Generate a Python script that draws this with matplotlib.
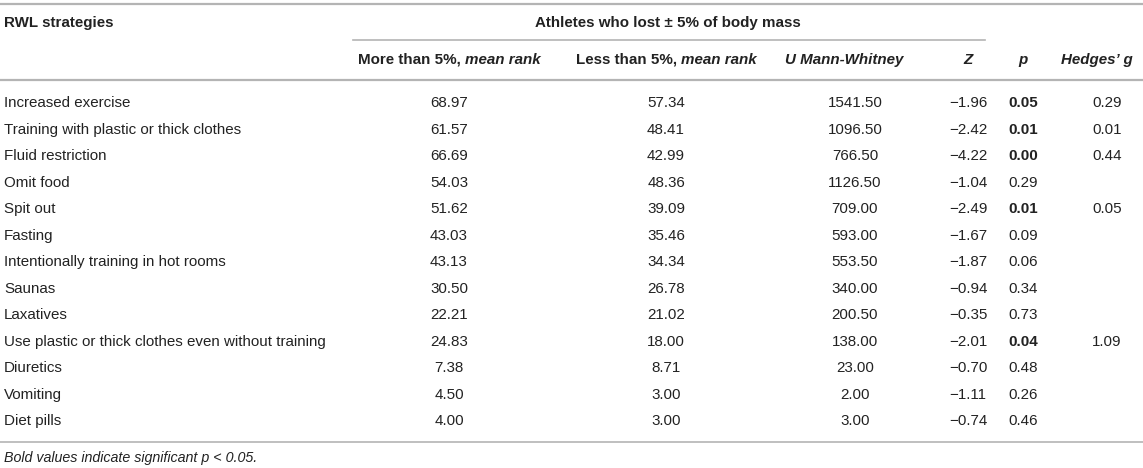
import matplotlib
matplotlib.use("Agg")
import matplotlib.pyplot as plt

plt.rcParams['font.family'] = ['Liberation Sans', 'DejaVu Sans']

# table content
strategies = ["Increased exercise", "Training with plastic or thick clothes", "Fluid restriction",
              "Omit food", "Spit out", "Fasting", "Intentionally training in hot rooms", "Saunas",
              "Laxatives", "Use plastic or thick clothes even without training", "Diuretics",
              "Vomiting", "Diet pills"]
more_rank = [68.97, 61.57, 66.69, 54.03, 51.62, 43.03, 43.13, 30.50, 22.21, 24.83, 7.38, 4.50, 4.00]
less_rank = [57.34, 48.41, 42.99, 48.36, 39.09, 35.46, 34.34, 26.78, 21.02, 18.00, 8.71, 3.00, 3.00]
u_values = [1541.50, 1096.50, 766.50, 1126.50, 709.00, 593.00, 553.50, 340.00, 200.50, 138.00,
            23.00, 2.00, 3.00]
z_values = [-1.96, -2.42, -4.22, -1.04, -2.49, -1.67, -1.87, -0.94, -0.35, -2.01, -0.70, -1.11, -0.74]
p_values = [0.05, 0.01, 0.00, 0.29, 0.01, 0.09, 0.06, 0.34, 0.73, 0.04, 0.48, 0.26, 0.46]
p_bold = [True, True, True, False, True, False, False, False, False, True, False, False, False]
hedges = [0.29, 0.01, 0.44, None, 0.05, None, None, None, None, 1.09, None, None, None]

W, H = 1143, 468
fig = plt.figure(figsize=(W / 100, H / 100), dpi=100)
ax = fig.add_axes([0, 0, 1, 1])
ax.set_xlim(0, W)
ax.set_ylim(H, 0)
ax.axis('off')
renderer = fig.canvas.get_renderer()

txt = '#222222'
line_c = '#b4b4b4'
fs = 10.9


def fmt(v):
    s = f"{abs(v):.2f}"
    return ("\u2212" + s) if v < 0 else s


def runs_centered(xc, y, parts):
    # parts: list of (string, style); draw side by side, centred on xc
    objs = [ax.text(0, y, s, fontsize=fs, fontweight='bold', style=st, color=txt,
                    va='center', ha='left') for s, st in parts]
    widths = [o.get_window_extent(renderer).width for o in objs]
    x = xc - sum(widths) / 2
    for o, w in zip(objs, widths):
        o.set_x(x)
        x += w


# rules
ax.plot([0, W], [3.5, 3.5], color=line_c, lw=1.6)
ax.plot([353, 985], [40, 40], color=line_c, lw=1.2)
ax.plot([0, W], [80, 80], color=line_c, lw=1.6)
ax.plot([0, W], [442, 442], color=line_c, lw=1.2)

# header
ax.text(4, 23, "RWL strategies", fontsize=fs, fontweight='bold', color=txt, va='center', ha='left')
ax.text(668, 23, "Athletes who lost \u00b1 5% of body mass", fontsize=fs, fontweight='bold',
        color=txt, va='center', ha='center')

xc = [449, 666, 852, 968, 1023, 1100]
hy = 60
runs_centered(xc[0], hy, [("More than 5%, ", 'normal'), ("mean rank", 'italic')])
runs_centered(xc[1], hy, [("Less than 5%, ", 'normal'), ("mean rank", 'italic')])
ax.text(xc[2] - 8, hy, "U Mann-Whitney", fontsize=fs, fontweight='bold', style='italic', color=txt,
        va='center', ha='center')
ax.text(xc[3], hy, "Z", fontsize=fs, fontweight='bold', style='italic', color=txt, va='center', ha='center')
ax.text(xc[4], hy, "p", fontsize=fs, fontweight='bold', style='italic', color=txt, va='center', ha='center')
ax.text(xc[5] - 3, hy, "Hedges\u2019 g", fontsize=fs, fontweight='bold', style='italic', color=txt,
        va='center', ha='center')

# body
y0, dy = 103.3, 26.5
for i, name in enumerate(strategies):
    y = y0 + i * dy
    ax.text(4, y, name, fontsize=fs, color=txt, va='center', ha='left')
    ax.text(xc[0], y, fmt(more_rank[i]), fontsize=fs, color=txt, va='center', ha='center')
    ax.text(xc[1], y, fmt(less_rank[i]), fontsize=fs, color=txt, va='center', ha='center')
    ax.text(xc[2] + 3, y, fmt(u_values[i]), fontsize=fs, color=txt, va='center', ha='center')
    ax.text(xc[3], y, fmt(z_values[i]), fontsize=fs, color=txt, va='center', ha='center')
    ax.text(xc[4], y, fmt(p_values[i]), fontsize=fs, color=txt, va='center', ha='center',
            fontweight='bold' if p_bold[i] else 'normal')
    if hedges[i] is not None:
        ax.text(xc[5] + 7, y, fmt(hedges[i]), fontsize=fs, color=txt, va='center', ha='center')

ax.text(4, 458, "Bold values indicate significant p < 0.05.", fontsize=fs - 0.6, style='italic',
        color=txt, va='center', ha='left')

fig.savefig("out.png", dpi=100, facecolor='white')
